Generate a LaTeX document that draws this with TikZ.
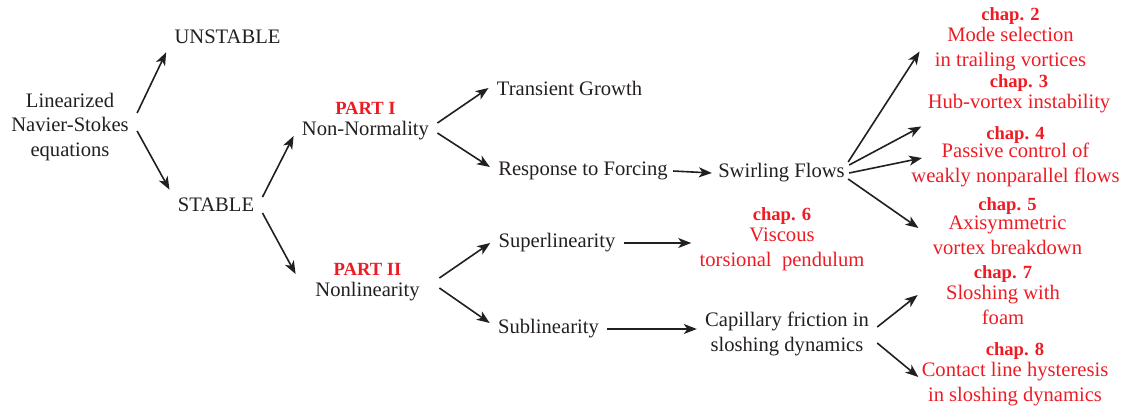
\documentclass[tikz,border=0pt]{standalone}
\usepackage{fontspec}
\setmainfont{Liberation Serif}
\usepackage{xcolor}
\usepackage{tikz}
\usetikzlibrary{arrows.meta, positioning}
\definecolor{chapred}{RGB}{237,28,36}
\definecolor{inkblack}{RGB}{35,31,32}
\tikzstyle{term} = [align=center, inner sep=4pt, text=inkblack, font=\fontsize{10.3}{12.4}\selectfont]
\tikzstyle{chapnode} = [term, text=chapred]
\tikzstyle{arrow} = [draw, -{Stealth[length=6.5pt, width=5pt, inset=1.8pt]}, line width=0.8pt, inkblack]
\newcommand{\chap}[2][-2pt]{{\fontsize{9.3}{10}\selectfont\bfseries chap. #2}\\[#1]}
\newcommand{\parthead}[1]{{\color{chapred}\fontsize{9.3}{10}\selectfont\bfseries #1}\\[-2pt]}
\begin{document}
\begin{tikzpicture}[x=0.5pt, y=-0.5pt]
            \useasboundingbox (0,0) rectangle (1130,408);
            % Nodes
            \node[term] (lns) at (70,127) {Linearized\\Navier-Stokes\\equations};
            \node[term] (unstable) at (227.5,37) {UNSTABLE};
            \node[term] (stable) at (216,205) {STABLE};
            \node[term] (partone) at (365.5,121) {\parthead{PART I}Non-Normality};
            \node[term, minimum width=71.5pt] (parttwo) at (367.5,282) {\parthead{PART II}Nonlinearity};
            \node[term] (transient) at (569.5,88) {Transient Growth};
            \node[term] (response) at (583,171) {Response to Forcing};
            \node[term] (swirl) at (781.5,173) {Swirling Flows};
            \node[term] (superlin) at (557,243) {Superlinearity};
            \node[term] (sublin) at (548.5,329) {Sublinearity};
            \node[term] (capillary) at (787,334) {Capillary friction in\\sloshing dynamics};
            \node[chapnode] (chtwo) at (1010.5,39.5) {\chap{2}Mode selection\\in trailing vortices};
            \node[chapnode] (chthree) at (1019,94) {\chap{3}Hub-vortex instability};
            \node[chapnode] (chfour) at (1015.5,157) {\chap[-3.5pt]{4}Passive control of\\weakly nonparallel flows};
            \node[chapnode] (chfive) at (1007.5,226) {\chap[-3pt]{5}Axisymmetric\\vortex breakdown};
            \node[chapnode] (chsix) at (782,239) {\chap{6}Viscous\\torsional\ \ pendulum};
            \node[chapnode] (chseven) at (1003,295) {\chap{7}Sloshing with\\foam};
            \node[chapnode] (cheight) at (1015,374) {\chap{8}Contact line hysteresis\\in sloshing dynamics};

            % Edges
            \draw[arrow] ([yshift=7pt]lns.east) -- (unstable.south west);
            \draw[arrow] ([yshift=-2pt]lns.east) -- (stable.north west);
            \draw[arrow] ([yshift=4pt]stable.east) -- ([yshift=-7.5pt]partone.west);
            \draw[arrow] ([yshift=-4pt]stable.east) -- ([yshift=4pt]parttwo.west);
            \draw[arrow] ([yshift=-1pt]partone.east) -- (transient.west);
            \draw[arrow] ([yshift=-6pt]partone.east) -- ([yshift=2pt]response.west);
            \draw[arrow] ([xshift=-1.5pt]response.east) -- ([xshift=1pt]swirl.west);
            \draw[arrow] ([xshift=-2.5pt,yshift=5.5pt]swirl.east) -- ([xshift=-3.5pt,yshift=-6pt]chtwo.west);
            \draw[arrow] ([xshift=-2pt,yshift=4pt]swirl.east) -- ([xshift=1pt,yshift=-2.5pt]chthree.south west);
            \draw[arrow] ([xshift=-2pt]swirl.east) -- ([xshift=9.5pt,yshift=-0.5pt]chfour.west);
            \draw[arrow] ([xshift=-2.5pt,yshift=-3pt]swirl.east) -- ([xshift=-3pt,yshift=-1pt]chfive.west);
            \draw[arrow] ([yshift=2pt]parttwo.east) -- (superlin.west);
            \draw[arrow] ([yshift=-3pt]parttwo.east) -- ([yshift=3pt]sublin.west);
            \draw[arrow] (superlin.east) -- (superlin.east -| chsix.west);
            \draw[arrow] (sublin.east) -- (sublin.east -| capillary.west);
            \draw[arrow] ([yshift=3.5pt]capillary.east) -- ([xshift=-10pt]chseven.west);
            \draw[arrow] ([yshift=-4.5pt]capillary.east) -- ([xshift=2.5pt,yshift=-1.5pt]cheight.west);
        \end{tikzpicture}
\end{document}
